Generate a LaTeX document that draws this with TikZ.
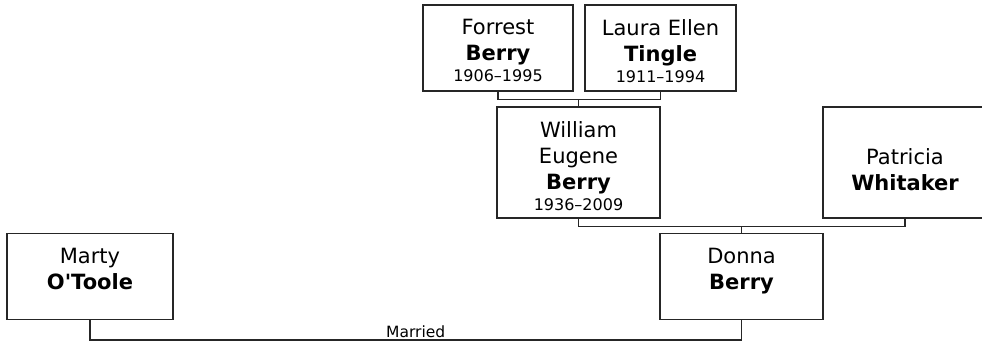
\documentclass[tikz,border=0pt]{standalone}
\usepackage{fontspec}
\setmainfont{DejaVu Sans}
\usetikzlibrary{positioning,calc}
\newcommand{\namefont}{\fontsize{21}{26}\selectfont}
\newcommand{\datefont}{\fontsize{16}{20}\selectfont}
\newcommand{\yrs}[1]{\\[-5pt]{\datefont #1}}
\tikzset{
  every picture/.style={line width=1.3pt, x=1pt, y=1pt},
  sPerson/.style={draw=black!85, inner sep=0pt, minimum height=86pt},
  sTall/.style={sPerson, minimum height=111pt},
  sName/.style={anchor=north, align=center, inner sep=0pt,
                font=\namefont, yshift=-14.3pt},
  sLink/.style={draw=black!85},
  sMarried/.style={font=\fontsize{15.5}{18}\selectfont, above, inner sep=1.5pt},
}

\begin{document}
\begin{tikzpicture}
  \useasboundingbox (0,0) rectangle (982,-344);
  \clip (0,0) rectangle (982,-344);
  \node[sPerson, minimum width=150pt, label={[sName]north:%
        {Forrest\\\textbf{Berry}\yrs{1906--1995}}}] (forrest) at (498,-48) {};
  \node[sPerson, minimum width=151pt, label={[sName]north:%
        {Laura Ellen\\\textbf{Tingle}\yrs{1911--1994}}}] (laura) at (660.5,-48) {};
  \node[sTall, minimum width=163pt, label={[sName]north:%
        {William\\Eugene\\\textbf{Berry}\yrs{1936--2009}}}] (william)
        at (578.5,-162.5) {};
  \node[sTall, minimum width=164pt, label={[sName, yshift=-27pt]north:%
        {Patricia\\\textbf{Whitaker}}}] (patricia) at (905,-162.5) {};
  \node[sPerson, minimum width=163pt, label={[sName]north:%
        {Donna\\\textbf{Berry}}}] (donna) at (741.5,-276.5) {};
  \node[sPerson, minimum width=166pt, label={[sName]north:%
        {Marty\\\textbf{O\textquotesingle Toole}}}] (marty) at (90,-276.5) {};
  % parents -> child
  \path (forrest.south) ++(0,-8) coordinate (flBar);
  \draw[sLink] (forrest.south) -- (flBar) -| (laura.south);
  \draw[sLink] (william.north) -- (william.north |- flBar);
  \path (william.south) ++(0,-8) coordinate (wpBar);
  \draw[sLink] (william.south) -- (wpBar) -| (patricia.south);
  \draw[sLink] (donna.north) -- (donna.north |- wpBar);
  % marriage
  \path (donna.south) ++(0,-20) coordinate (dmBar);
  \draw[sLink] (donna.south) -- (dmBar) -| node[pos=0.25, sMarried] {Married}
        (marty.south);
\end{tikzpicture}
\end{document}
